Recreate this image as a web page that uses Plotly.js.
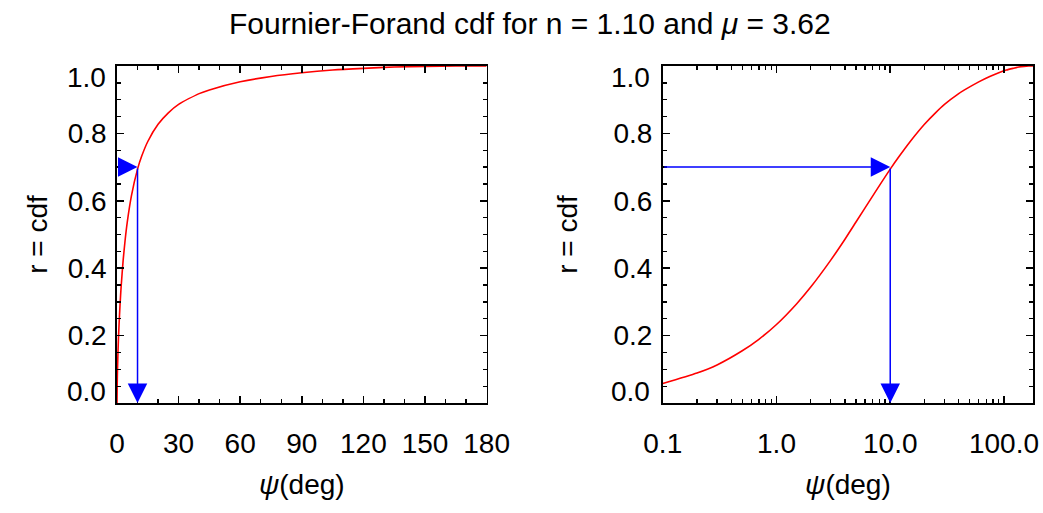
<!DOCTYPE html>
<html><head><meta charset="utf-8">
<script src="https://cdn.plot.ly/plotly-3.0.1.min.js"></script>
<style>body{margin:0;background:#fff;}#chart{width:1043px;height:513px;}</style>
</head><body><div id="chart"></div>
<script>
// Values
const psi = [0, 0.1, 0.2, 0.3, 0.5, 0.7, 1, 1.5, 2, 3, 4, 5, 7, 10, 12, 15, 20, 25, 30, 40, 45, 60, 75, 90, 105, 120, 135, 150, 165, 180];
const cdf = [0, 0.058, 0.089, 0.113, 0.155, 0.189, 0.233, 0.294, 0.344, 0.424, 0.486, 0.537, 0.614, 0.694, 0.732, 0.776, 0.827, 0.861, 0.886, 0.918, 0.929, 0.953, 0.969, 0.980, 0.988, 0.993, 0.997, 0.999, 1.000, 1.000];
const psiMark = 10;
const rMark = 0.7;
const psiLogStart = 0.1;

const linTicks = [0, 30, 60, 90, 120, 150, 180];
const logTicks = [0.1, 1, 10, 100];
const logTickText = ['0.1', '1.0', '10.0', '100.0'];
const rTicks = [0.2, 0.4, 0.6, 0.8];
const rTickText = ['0.2', '0.4', '0.6', '0.8'];
const rEndTicks = [0, 1];
const rEndText = ['0.0', '1.0'];

const titleText = 'Fournier-Forand cdf for n = 1.10 and <i>μ</i> = 3.62';
const xTitle = '<i>ψ</i>(deg)';
const yTitle = 'r = cdf';

const logMinor = [];
[0.1, 1, 10].forEach(d => { for (let k = 2; k <= 9; k++) logMinor.push(+(k * d).toPrecision(3)); });

const FONT = 'Liberation Sans, Arial, Helvetica, sans-serif';
const fs = 28;

const psiPos = psi.filter(v => v > 0);
const cdfPos = cdf.filter((v, i) => psi[i] > 0);

const traces = [
  {x: psi, y: cdf, xaxis: 'x', yaxis: 'y', mode: 'lines', line: {color: '#ff0000', width: 1.6, shape: 'spline', smoothing: 0.6}, hoverinfo: 'skip'},
  {x: psiPos, y: cdfPos, xaxis: 'x2', yaxis: 'y2', mode: 'lines', line: {color: '#ff0000', width: 1.6, shape: 'spline', smoothing: 0.6}, hoverinfo: 'skip'}
];

const common = {
  showline: true, linecolor: '#000', linewidth: 1.7, mirror: 'allticks',
  ticks: 'inside', ticklen: 7, tickwidth: 1.5, tickcolor: '#000',
  showgrid: false, zeroline: false, fixedrange: true,
  tickfont: {family: FONT, size: fs, color: '#000'}
};

function yAxis(extra) {
  return Object.assign({}, common, {
    range: [0, 1], tickmode: 'array', tickvals: rTicks, ticktext: rTickText,
    minor: {ticks: 'inside', ticklen: 4, tickwidth: 1.3, tickcolor: '#000', dtick: 0.05, tick0: 0, showgrid: false},
    ticklabelstandoff: 3
  }, extra);
}

const layout = {
  width: 1043, height: 513,
  margin: {l: 117, r: 10, t: 66, b: 110},
  paper_bgcolor: '#fff', plot_bgcolor: '#fff',
  showlegend: false,
  title: {text: titleText, x: 0.508, xref: 'container', xanchor: 'center', y: 0.955, yref: 'container', yanchor: 'middle', font: {family: FONT, size: 30, color: '#000'}},
  xaxis: Object.assign({}, common, {
    domain: [0, 0.4035], range: [0, 180], tickmode: 'array', tickvals: linTicks,
    minor: {ticks: 'inside', ticklen: 4, tickwidth: 1.3, tickcolor: '#000', dtick: 10, tick0: 0, showgrid: false},
    ticklabelstandoff: 15,
    title: {text: xTitle, standoff: 16, font: {family: FONT, size: fs, color: '#000'}}
  }),
  yaxis: yAxis({anchor: 'x', title: {text: yTitle, standoff: 12, font: {family: FONT, size: fs, color: '#000'}}}),
  xaxis2: Object.assign({}, common, {
    domain: [0.5958, 1], type: 'log', range: [Math.log10(psiLogStart), Math.log10(180)],
    tickmode: 'array', tickvals: logTicks, ticktext: logTickText,
    minor: {ticks: 'inside', ticklen: 4, tickwidth: 1.3, tickcolor: '#000', tickmode: 'array', tickvals: logMinor, showgrid: false},
    ticklabelstandoff: 15, anchor: 'y2',
    title: {text: xTitle, standoff: 16, font: {family: FONT, size: fs, color: '#000'}}
  }),
  yaxis2: yAxis({anchor: 'x2', title: {text: yTitle, standoff: 28, font: {family: FONT, size: fs, color: '#000'}}}),
  annotations: []
};

function arrow(xref, yref, x, y, ax, ay) {
  return {xref: xref, yref: yref, axref: xref, ayref: yref, x: x, y: y, ax: ax, ay: ay, text: '', showarrow: true,
    arrowhead: 2, arrowsize: 2.6, arrowwidth: 1.5, arrowcolor: '#0000ff', standoff: 0, startstandoff: 0};
}
layout.annotations.push(arrow('x', 'y', psiMark, rMark, 0, rMark));
layout.annotations.push(arrow('x', 'y', psiMark, 0, psiMark, rMark));
layout.annotations.push(arrow('x2', 'y2', Math.log10(psiMark), rMark, Math.log10(psiLogStart), rMark));
layout.annotations.push(arrow('x2', 'y2', Math.log10(psiMark), 0, Math.log10(psiMark), rMark));

// end labels of the r axes, drawn slightly inside the frame as in the original
[['x', 'y', 9], ['x2', 'y2', 11]].forEach(([xr, yr, gap]) => {
  rEndTicks.forEach((v, i) => {
    layout.annotations.push({xref: xr + ' domain', yref: yr, x: 0, y: v === 0 ? 0.033 : 0.967, xanchor: 'right', yanchor: 'middle',
      xshift: -gap, text: rEndText[i], showarrow: false, font: {family: FONT, size: fs, color: '#000'}});
  });
});

Plotly.newPlot('chart', traces, layout, {displayModeBar: false, staticPlot: true});
</script></body></html>
